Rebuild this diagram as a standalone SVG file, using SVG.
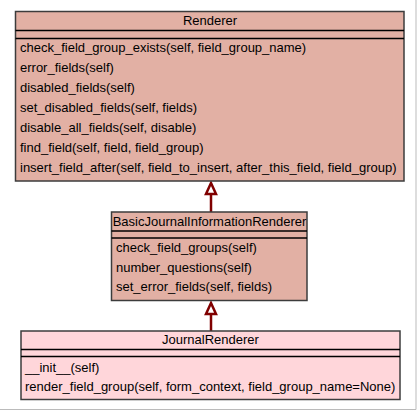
<svg xmlns="http://www.w3.org/2000/svg" width="419" height="411" viewBox="0 0 419 411">
<style>
text{font-family:"Liberation Sans",Arial,sans-serif;font-size:13px;fill:#000}
.t{text-anchor:middle}
.box{stroke:#3c3c3c;stroke-width:1.5}
.sep{stroke:#000;stroke-width:1.3}
.a{fill:#e2b0a4}
.b{fill:#ffd6da}
.edge{stroke:#800000;stroke-width:2.5;fill:none}
.head{stroke:#800000;stroke-width:2.5;fill:#fff}
</style>
<rect x="0" y="0" width="419" height="411" fill="#fff"/>
<line x1="416" y1="0" x2="416" y2="409.5" stroke="#bbb" stroke-width="1"/>
<line x1="0" y1="409.5" x2="416" y2="409.5" stroke="#bbb" stroke-width="1"/>
<g id="connectors">
<line class="edge" x1="211" y1="212" x2="211" y2="194"/>
<polygon class="head" points="211,183 206,194 216,194"/>
<line class="edge" x1="211" y1="331" x2="211" y2="314"/>
<polygon class="head" points="211,303 206,314 216,314"/>
</g>
<g id="Renderer">
<rect class="box a" x="15.5" y="11.5" width="388.5" height="169.5"/>
<line class="sep" x1="15.5" y1="30.5" x2="404" y2="30.5"/>
<line class="sep" x1="15.5" y1="38.5" x2="404" y2="38.5"/>
<text class="t" x="210" y="25">Renderer</text>
<text x="20" y="52">check_field_group_exists(self, field_group_name)</text>
<text x="20" y="72">error_fields(self)</text>
<text x="20" y="92">disabled_fields(self)</text>
<text x="20" y="112">set_disabled_fields(self, fields)</text>
<text x="20" y="132">disable_all_fields(self, disable)</text>
<text x="20" y="152">find_field(self, field, field_group)</text>
<text x="20" y="172">insert_field_after(self, field_to_insert, after_this_field, field_group)</text>
</g>
<g id="BasicJournalInformationRenderer">
<rect class="box a" x="111.5" y="212" width="195.5" height="88.5"/>
<line class="sep" x1="111.5" y1="231" x2="307" y2="231"/>
<line class="sep" x1="111.5" y1="238" x2="307" y2="238"/>
<text class="t" x="209.5" y="226">BasicJournalInformationRenderer</text>
<text x="116" y="252">check_field_groups(self)</text>
<text x="116" y="271.5">number_questions(self)</text>
<text x="116" y="291">set_error_fields(self, fields)</text>
</g>
<g id="JournalRenderer">
<rect class="box b" x="21" y="331" width="379" height="68.5"/>
<line class="sep" x1="21" y1="349.5" x2="400" y2="349.5"/>
<line class="sep" x1="21" y1="356.5" x2="400" y2="356.5"/>
<text class="t" x="210.5" y="344">JournalRenderer</text>
<text x="25" y="372">__init__(self)</text>
<text x="25" y="391">render_field_group(self, form_context, field_group_name=None)</text>
</g>
</svg>
